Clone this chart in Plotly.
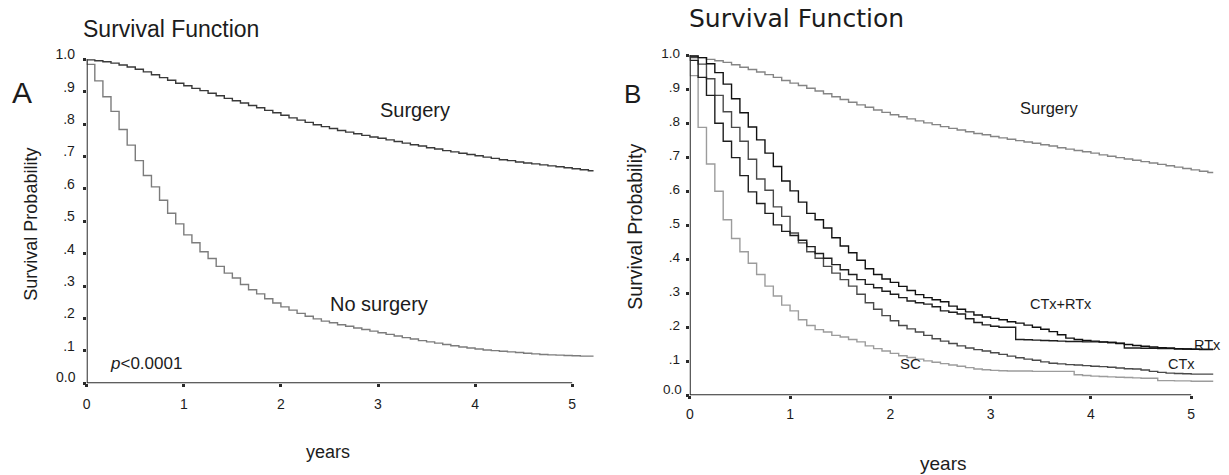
import plotly.graph_objects as go

# Kaplan-Meier estimates, one value per monthly interval (month 0 .. 62)
STEP_YEARS = 1 / 12
FOLLOW_UP_END = 5.22

# Panel A: surgery vs no surgery
a_surgery = [
    0.998, 0.995, 0.992, 0.988, 0.982, 0.976, 0.969, 0.961, 0.952, 0.943,
    0.935, 0.926, 0.918, 0.910, 0.903, 0.895, 0.887, 0.879, 0.872, 0.865,
    0.857, 0.850, 0.842, 0.835, 0.827, 0.819, 0.812, 0.805, 0.798, 0.792,
    0.786, 0.780, 0.775, 0.770, 0.765, 0.760, 0.756, 0.751, 0.746, 0.741,
    0.736, 0.732, 0.727, 0.723, 0.718, 0.714, 0.710, 0.706, 0.702, 0.698,
    0.694, 0.690, 0.687, 0.683, 0.680, 0.677, 0.674, 0.671, 0.668, 0.665,
    0.662, 0.659, 0.656,
]
a_no_surgery = [
    0.984, 0.933, 0.884, 0.839, 0.783, 0.735, 0.687, 0.641, 0.606, 0.565,
    0.525, 0.492, 0.458, 0.434, 0.406, 0.385, 0.361, 0.340, 0.325, 0.305,
    0.289, 0.276, 0.261, 0.248, 0.236, 0.226, 0.216, 0.207, 0.199, 0.192,
    0.187, 0.181, 0.176, 0.171, 0.166, 0.161, 0.156, 0.151, 0.146, 0.141,
    0.137, 0.132, 0.128, 0.124, 0.120, 0.116, 0.112, 0.109, 0.106, 0.103,
    0.101, 0.099, 0.097, 0.095, 0.093, 0.091, 0.089, 0.088, 0.087, 0.086,
    0.085, 0.084, 0.084,
]

# Panel B: surgery and the non-surgical treatment groups
b_surgery = [
    0.997, 0.993, 0.988, 0.984, 0.979, 0.972, 0.965, 0.958, 0.951, 0.943,
    0.935, 0.926, 0.918, 0.911, 0.903, 0.895, 0.887, 0.878, 0.870, 0.862,
    0.854, 0.847, 0.839, 0.832, 0.825, 0.819, 0.813, 0.807, 0.801, 0.796,
    0.790, 0.785, 0.780, 0.775, 0.770, 0.766, 0.761, 0.757, 0.753, 0.749,
    0.745, 0.741, 0.737, 0.733, 0.728, 0.724, 0.720, 0.716, 0.712, 0.707,
    0.703, 0.699, 0.695, 0.691, 0.687, 0.683, 0.679, 0.675, 0.671, 0.667,
    0.663, 0.659, 0.655,
]
b_ctx_rtx = [
    0.998, 0.993, 0.975, 0.949, 0.915, 0.872, 0.831, 0.789, 0.751, 0.712,
    0.673, 0.630, 0.601, 0.568, 0.535, 0.516, 0.492, 0.463, 0.439, 0.419,
    0.397, 0.372, 0.355, 0.342, 0.332, 0.320, 0.308, 0.296, 0.287, 0.281,
    0.275, 0.262, 0.253, 0.245, 0.236, 0.230, 0.226, 0.222, 0.216, 0.212,
    0.206, 0.200, 0.194, 0.187, 0.178, 0.168, 0.164, 0.161, 0.159, 0.157,
    0.155, 0.152, 0.149, 0.146, 0.144, 0.142, 0.140, 0.139, 0.137, 0.136,
    0.135, 0.134, 0.134,
]
b_rtx = [
    0.985, 0.935, 0.882, 0.800, 0.747, 0.699, 0.646, 0.598, 0.564, 0.535,
    0.501, 0.482, 0.470, 0.456, 0.437, 0.417, 0.403, 0.384, 0.369, 0.355,
    0.340, 0.326, 0.316, 0.306, 0.297, 0.287, 0.277, 0.272, 0.268, 0.260,
    0.248, 0.244, 0.239, 0.225, 0.214, 0.207, 0.203, 0.200, 0.200, 0.164,
    0.163, 0.162, 0.161, 0.160, 0.159, 0.158, 0.158, 0.157, 0.157, 0.156,
    0.155, 0.153, 0.139, 0.139, 0.138, 0.138, 0.137, 0.137, 0.136, 0.136,
    0.135, 0.135, 0.135,
]
b_ctx = [
    0.993, 0.974, 0.931, 0.882, 0.834, 0.788, 0.747, 0.694, 0.636, 0.603,
    0.554, 0.526, 0.477, 0.448, 0.422, 0.403, 0.379, 0.359, 0.340, 0.321,
    0.297, 0.272, 0.253, 0.234, 0.219, 0.205, 0.195, 0.186, 0.176, 0.166,
    0.159, 0.152, 0.145, 0.139, 0.134, 0.130, 0.125, 0.120, 0.115, 0.110,
    0.106, 0.103, 0.098, 0.094, 0.092, 0.090, 0.089, 0.087, 0.085, 0.084,
    0.082, 0.080, 0.078, 0.077, 0.074, 0.070, 0.067, 0.065, 0.064, 0.063,
    0.062, 0.062, 0.062,
]
b_sc = [
    0.940, 0.788, 0.680, 0.600, 0.516, 0.461, 0.422, 0.388, 0.355, 0.321,
    0.292, 0.265, 0.248, 0.222, 0.205, 0.193, 0.186, 0.176, 0.171, 0.164,
    0.157, 0.145, 0.137, 0.130, 0.123, 0.116, 0.111, 0.106, 0.101, 0.097,
    0.093, 0.089, 0.085, 0.081, 0.077, 0.075, 0.073, 0.072, 0.071, 0.071,
    0.071, 0.070, 0.070, 0.070, 0.070, 0.070, 0.060, 0.058, 0.056, 0.055,
    0.054, 0.053, 0.052, 0.051, 0.050, 0.050, 0.043, 0.043, 0.042, 0.042,
    0.041, 0.041, 0.041,
]

x_ticks = [0, 1, 2, 3, 4, 5]
x_ticktext = ["0", "1", "2", "3", "4", "5"]
y_ticks = [0.0, 0.1, 0.2, 0.3, 0.4, 0.5, 0.6, 0.7, 0.8, 0.9, 1.0]
y_ticktext = ["", ".1", ".2", ".3", ".4", ".5", ".6", ".7", ".8", ".9", "1.0"]

SANS = "Liberation Sans, Arial, Helvetica, sans-serif"
WIDE = "DejaVu Sans, Verdana, sans-serif"
INK = "#1c1c1c"
AXIS = "#2a2a2a"


def km_xy(values):
    """Step coordinates: start at 1.0, one step per month, flat to end of follow-up."""
    xs = [0.0] + [m * STEP_YEARS for m in range(len(values))] + [FOLLOW_UP_END]
    ys = [1.0] + list(values) + [values[-1]]
    return xs, ys


fig = go.Figure()

curves = [
    ("x", "y", a_surgery, "#3a3a3a"),
    ("x", "y", a_no_surgery, "#7c7c7c"),
    ("x2", "y2", b_surgery, "#858585"),
    ("x2", "y2", b_sc, "#9c9c9c"),
    ("x2", "y2", b_ctx, "#4a4a4a"),
    ("x2", "y2", b_rtx, "#1e1e1e"),
    ("x2", "y2", b_ctx_rtx, "#111111"),
]
for xa, ya, vals, col in curves:
    xs, ys = km_xy(vals)
    fig.add_trace(go.Scatter(
        x=xs, y=ys, xaxis=xa, yaxis=ya, mode="lines",
        line=dict(shape="hv", color=col, width=1.4),
        showlegend=False, hoverinfo="skip",
    ))


def x_axis(domain, anchor, size, standoff):
    return dict(
        domain=domain, anchor=anchor, range=[0, 5.25],
        tickmode="array", tickvals=x_ticks, ticktext=x_ticktext,
        ticks="outside", ticklen=3, tickwidth=3, tickcolor=AXIS,
        tickfont=dict(family=SANS, size=size, color=INK),
        ticklabelstandoff=standoff,
        showgrid=False, zeroline=False, showline=False,
    )


def y_axis(domain, anchor, size, shift, standoff):
    return dict(
        domain=domain, anchor=anchor, range=[0, 1.02],
        tickmode="array", tickvals=y_ticks, ticktext=y_ticktext,
        ticks="outside", ticklen=3, tickwidth=3, tickcolor=AXIS,
        tickfont=dict(family=SANS, size=size, color=INK),
        ticklabelshift=shift, ticklabelstandoff=standoff,
        showgrid=False, zeroline=False, showline=False,
    )


fig.update_layout(
    width=1229, height=475,
    margin=dict(l=0, r=0, t=0, b=0),
    paper_bgcolor="white", plot_bgcolor="white",
    xaxis=x_axis([0.06753, 0.48364], "y", 14, 5),
    yaxis=y_axis([0.19579, 0.90232], "x", 14, -5, 5),
    xaxis2=x_axis([0.55981, 0.98958], "y2", 14, 3),
    yaxis2=y_axis([0.17053, 0.91137], "x2", 13.5, -2, 3),
)

# Axis lines stop at 5 years and at 1.0
for xa, ya in (("x", "y"), ("x2", "y2")):
    fig.add_shape(type="line", xref=xa, yref=ya, x0=0, x1=5, y0=0, y1=0,
                  line=dict(color=AXIS, width=2))
    fig.add_shape(type="line", xref=xa, yref=ya, x0=0, x1=0, y0=0, y1=1.0,
                  line=dict(color=AXIS, width=2))

ann = []
# Titles and panel letters
ann.append(dict(text="Survival Function", xref="paper", yref="paper", x=0.06265, y=0.94316,
                xanchor="left", yshift=5, font=dict(family=SANS, size=23, color=INK)))
ann.append(dict(text="Survival Function", xref="paper", yref="paper", x=0.55736, y=0.96421,
                xanchor="left", yshift=5, font=dict(family=WIDE, size=25, color=INK)))
ann.append(dict(text="A", xref="paper", yref="paper", x=0.01465, y=0.80211,
                yshift=7, font=dict(family=SANS, size=30, color=INK)))
ann.append(dict(text="B", xref="paper", yref="paper", x=0.51343, y=0.80211,
                yshift=6, font=dict(family=SANS, size=26, color=INK)))
# Axis titles
ann.append(dict(text="Survival Probability", xref="paper", yref="paper", x=0.02441, y=0.53684,
                textangle=-90, xshift=-3, font=dict(family=SANS, size=18, color=INK)))
ann.append(dict(text="Survival Probability", xref="paper", yref="paper", x=0.51668, y=0.53053,
                textangle=-90, xshift=-2, font=dict(family=SANS, size=19.5, color=INK)))
ann.append(dict(text="years", xref="paper", yref="paper", x=0.26444, y=0.04842,
                font=dict(family=SANS, size=18, color=INK)))
ann.append(dict(text="years", xref="paper", yref="paper", x=0.76648, y=0.02526,
                font=dict(family=SANS, size=19, color=INK)))
# Zero labels on the y axes
ann.append(dict(text="0.0", xref="x", yref="y", x=0, y=0, xanchor="right",
                xshift=-9, yshift=6, font=dict(family=SANS, size=14, color=INK)))
ann.append(dict(text="0.0", xref="x2", yref="y2", x=0, y=0, xanchor="right",
                xshift=-6, yshift=6, font=dict(family=SANS, size=13.5, color=INK)))
# Curve labels, panel A
ann.append(dict(text="Surgery", xref="x", yref="y", x=3.41, y=0.827,
                xshift=-3, yshift=5, font=dict(family=SANS, size=20, color=INK)))
ann.append(dict(text="No surgery", xref="x", yref="y", x=3.03, y=0.231,
                xshift=-2, yshift=4, font=dict(family=SANS, size=20, color=INK)))
ann.append(dict(text="<i>p</i><0.0001", xref="x", yref="y", x=0.277, y=0.052, xanchor="left",
                xshift=-6, yshift=3, font=dict(family=SANS, size=17, color=INK)))
# Curve labels, panel B
for txt, xv, yv, sz, dy in (("Surgery", 3.59, 0.829, 16.5, 5), ("CTx+RTx", 3.70, 0.258, 14.5, 3),
                            ("RTx", 5.16, 0.139, 14.5, 3), ("CTx", 4.90, 0.084, 14.5, 3),
                            ("SC", 2.20, 0.084, 15, 3)):
    ann.append(dict(text=txt, xref="x2", yref="y2", x=xv, y=yv, yshift=dy,
                    font=dict(family=SANS, size=sz, color=INK)))

for a in ann:
    a.setdefault("showarrow", False)
    a.setdefault("xanchor", "center")
    a.setdefault("yanchor", "middle")
fig.update_layout(annotations=ann)

fig.write_html("out.html")
